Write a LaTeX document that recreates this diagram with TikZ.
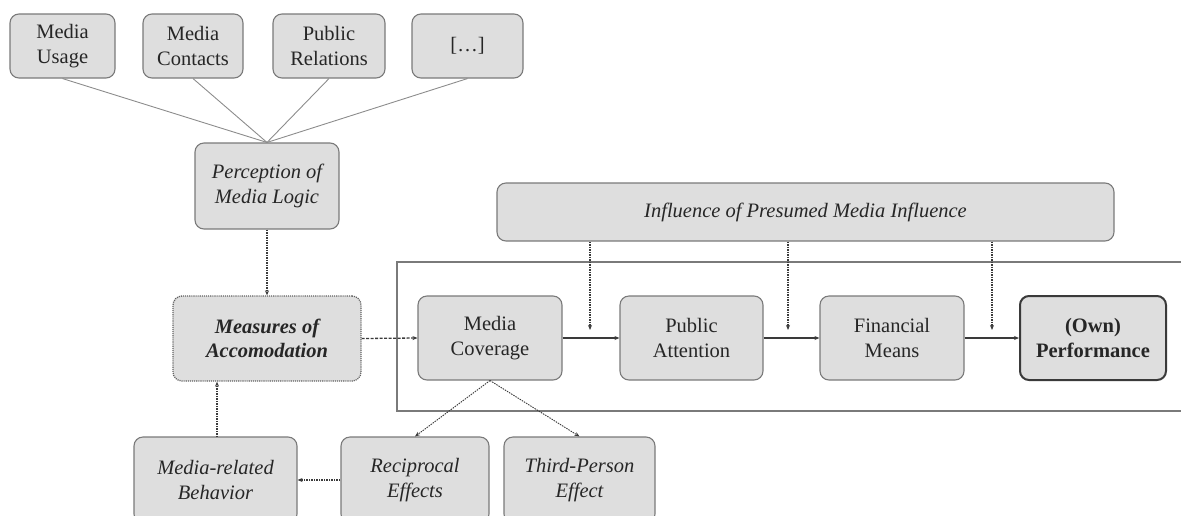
\documentclass[tikz,border=0pt]{standalone}
\usepackage{fontspec}
\setmainfont{Liberation Serif}
\usetikzlibrary{arrows.meta}
\definecolor{boxfill}{HTML}{DEDEDE}
\definecolor{boxline}{HTML}{7A7A7A}
\definecolor{linkgray}{HTML}{8C8C8C}
\definecolor{darkline}{HTML}{3A3A3A}
\tikzset{
  box/.style={draw=boxline, line width=1.1pt, fill=boxfill, rounded corners=9pt,
    align=center, inner sep=0pt, font=\fontsize{20.5}{24.5}\selectfont, text=black!85},
  tip/.style={-{Stealth[length=5pt,width=4pt]}},
  feed/.style={linkgray, line width=0.9pt},
  dotlink/.style={tip, darkline, line width=1.1pt, dash pattern=on 1.5pt off 1pt},
  dashlink/.style={tip, darkline, line width=1.3pt, dash pattern=on 3pt off 1.5pt},
  mainlink/.style={tip, darkline, line width=1.6pt},
  frameline/.style={boxline, line width=1.1pt}
}
\begin{document}
\begin{tikzpicture}[x=1pt,y=-1pt]
\useasboundingbox (0,0) rectangle (1181,515);
\clip (0,0) rectangle (1181,515);

% enclosing frame of the main chain
\draw[frameline] (1190,262) -- (397,262) -- (397,411) -- (1190,411);

% sources of perception
\node[box, minimum width=105pt, minimum height=64pt] (usage) at (62.5,46) {Media\\Usage};
\node[box, minimum width=100pt, minimum height=64pt] (contacts) at (193,46) {Media\\Contacts};
\node[box, minimum width=112pt, minimum height=64pt] (pr) at (329,46) {Public\\Relations};
\node[box, minimum width=111pt, minimum height=64pt] (etc) at (467.5,46) {[\dots]};

\node[box, minimum width=144pt, minimum height=86pt] (perc) at (267,186) {\itshape Perception of\\\itshape Media Logic};
\coordinate (meet) at (perc.north);
\foreach \s in {usage,contacts,pr,etc} \draw[feed] (\s.south) -- (meet);

% presumed influence
\node[box, minimum width=617pt, minimum height=58pt] (ipmi) at (805.5,212) {\itshape Influence of Presumed Media Influence};

% accommodation and main chain
\node[box, densely dotted, line width=1.3pt, draw=darkline!80, minimum width=188pt, minimum height=85pt] (meas) at (267,338.5) {\bfseries\itshape Measures of\\\bfseries\itshape Accomodation};
\node[box, minimum width=144pt, minimum height=84pt] (cov) at (490,338) {Media\\Coverage};
\node[box, minimum width=143pt, minimum height=84pt] (att) at (691.5,338) {Public\\Attention};
\node[box, minimum width=144pt, minimum height=84pt] (fin) at (892,338) {Financial\\Means};
\node[box, draw=darkline, line width=2pt, minimum width=146pt, minimum height=84pt] (perf) at (1093,338) {\bfseries (Own)\\\bfseries Performance};

% effects
\node[box, minimum width=163pt, minimum height=86pt] (behav) at (215.5,480) {\itshape Media-related\\\itshape Behavior};
\node[box, minimum width=148pt, minimum height=86pt] (recip) at (415,480) {\itshape Reciprocal\\\itshape Effects};
\node[box, minimum width=151pt, minimum height=86pt] (third) at (579.5,480) {\itshape Third-Person\\\itshape Effect};

% connectors
\draw[dotlink] (perc.south) -- (meas.north);
\draw[dashlink] (meas.east) -- (cov.west);
\draw[mainlink] (cov.east) -- (att.west);
\draw[mainlink] (att.east) -- (fin.west);
\draw[mainlink] (fin.east) -- (perf.west);

\coordinate (d1) at (590,330);
\coordinate (d2) at (788,330);
\coordinate (d3) at (992,330);
\draw[dotlink] (ipmi.south -| d1) -- (d1);
\draw[dotlink] (ipmi.south -| d2) -- (d2);
\draw[dotlink] (ipmi.south -| d3) -- (d3);

\draw[dotlink, line width=0.9pt] (cov.south) -- (recip.north);
\draw[dotlink, line width=0.9pt] (cov.south) -- (third.north);
\draw[dotlink] (recip.west) -- (behav.east);
\coordinate (bup) at (217,437);
\draw[dotlink] (bup) -- (bup |- meas.south);
\end{tikzpicture}
\end{document}
